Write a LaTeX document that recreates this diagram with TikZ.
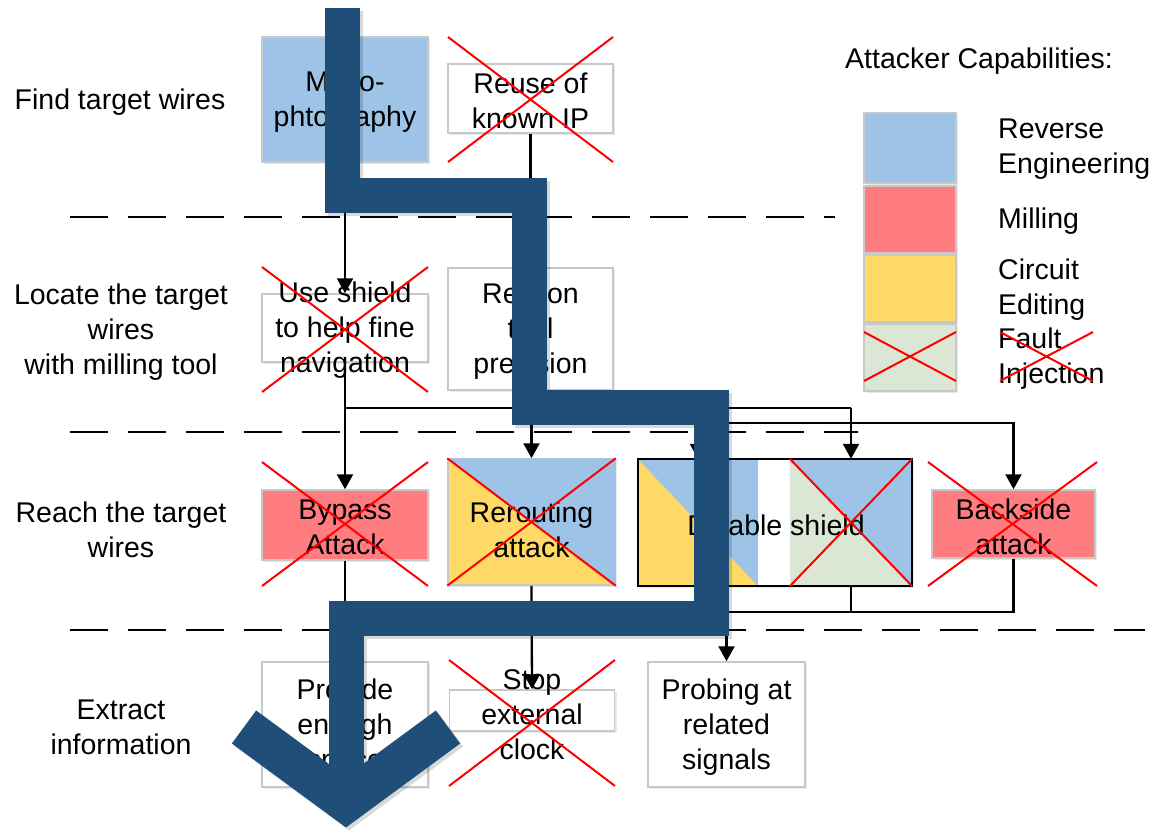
\documentclass[tikz,border=0pt]{standalone}
\usepackage{fontspec}
\setmainfont{Liberation Sans}
\usetikzlibrary{arrows.meta,shadows}

\definecolor{reBlue}{HTML}{9DC3E6}
\definecolor{millRed}{HTML}{FF7C80}
\definecolor{editYel}{HTML}{FFD966}
\definecolor{faultGrn}{HTML}{DCE6D4}
\definecolor{pathBlue}{HTML}{1F4E79}
\definecolor{edgeGray}{HTML}{C8C8C8}

\begin{document}
\begin{tikzpicture}[x=1pt,y=-1pt,
  lbl/.style={font=\fontsize{28.5}{35}\selectfont, align=center, inner sep=0pt, yshift=-2.5pt},
  stepbox/.style={draw=edgeGray, line width=1.5pt, fill=white, inner sep=0pt,
    drop shadow={shadow xshift=2pt, shadow yshift=-2pt, opacity=0.18}},
  swatch/.style={draw=edgeGray, line width=1.5pt, inner sep=0pt,
    drop shadow={shadow xshift=2pt, shadow yshift=-2pt, opacity=0.18}},
  part/.style={inner sep=0pt},
  xmark/.style={draw=red, line width=2pt},
  conn/.style={draw=black, line width=2.3pt},
  arr/.style={conn, -{Triangle[length=15pt,width=16pt]}},
  level/.style={draw=black, line width=2pt, dash pattern=on 38pt off 20pt},
  band/.style={draw=pathBlue, line width=35pt, line join=miter, line cap=butt},
]
\useasboundingbox (0,0) rectangle (1155,832);

% ---------- level separators ----------
\draw[level] (70,217) -- (835,217);
\draw[level] (70,432) -- (858,432);
\draw[level] (70,630) -- (1145,630);

% ---------- step labels ----------
\node[lbl] (l1) at (120,100) {Find target wires};
\node[lbl] (l2) at (121,330) {Locate the target\\wires\\with milling tool};
\node[lbl] (l3) at (121,527) {Reach the target\\wires};
\node[lbl] (l4) at (121,725) {Extract\\information};

% ---------- row 1 ----------
\node[stepbox, fill=reBlue, minimum width=166pt, minimum height=125pt] (micro) at (345,99.5) {};
\node[lbl] (microT) at (micro) {Micro-\\phtography};
\node[stepbox, minimum width=165pt, minimum height=69pt] (reuse) at (530.5,98.5) {};
\node[lbl] (reuseT) at (reuse) {Reuse of\\known IP};
\draw[xmark] (448,37) -- (613,162) (448,162) -- (613,37);

% ---------- row 2 ----------
\node[stepbox, minimum width=166pt, minimum height=68pt] (shield) at (345,328) {};
\node[lbl] (shieldT) at (shield) {Use shield\\to help fine\\navigation};
\draw[xmark] (262,267) -- (428,392) (262,392) -- (428,267);
\node[stepbox, minimum width=165pt, minimum height=122pt] (rely) at (530.5,329) {};
\node[lbl] (relyT) at (rely) {Rely on\\tool\\precision};

% ---------- row 3 ----------
\node[stepbox, fill=millRed, minimum width=166pt, minimum height=70pt] (bypass) at (345,525) {};
\node[lbl] (bypassT) at (bypass) {Bypass\\Attack};
\draw[xmark] (262,462) -- (428,586) (262,586) -- (428,462);

\node[stepbox, fill=editYel, minimum width=167pt, minimum height=126pt] (rerout) at (531.5,522) {};
\fill[reBlue] (rerout.north west) -- (rerout.north east) -- (rerout.south east) -- cycle;
\node[lbl] (reroutT) at (531.5,527) {Rerouting\\attack};
\draw[xmark] (rerout.north west) -- (rerout.south east) (rerout.south west) -- (rerout.north east);

\node[inner sep=0pt, minimum width=274pt, minimum height=127pt, fill=white,
  drop shadow={shadow xshift=2pt, shadow yshift=-2pt, opacity=0.18}] (disable) at (775,522.5) {};
\node[part, minimum width=120pt, minimum height=127pt, fill=editYel] (disL) at (698,522.5) {};
\fill[reBlue] (disL.north west) -- (disL.north east) -- (disL.south east) -- cycle;
\node[part, minimum width=122pt, minimum height=127pt, fill=faultGrn] (disR) at (851,522.5) {};
\fill[reBlue] (disR.north west) -- (disR.north east) -- (disR.south east) -- cycle;
\draw[black, line width=2pt] (disable.north west) rectangle (disable.south east);
\node[lbl] (disableT) at (776,523) {Disable shield};
\draw[xmark] (disR.north west) -- (disR.south east) (disR.south west) -- (disR.north east);

\node[stepbox, fill=millRed, minimum width=163pt, minimum height=68pt] (backside) at (1013.5,524) {};
\node[lbl] (backsideT) at (backside) {Backside\\attack};
\draw[xmark] (928,462) -- (1097,586) (928,586) -- (1097,462);

% ---------- row 4 ----------
\node[stepbox, minimum width=166pt, minimum height=125pt] (provide) at (345,724.5) {};
\node[lbl] (provideT) at (provide) {Provide\\enough\\space};
\node[stepbox, minimum width=165pt, minimum height=41pt] (stop) at (532,710.5) {};
\node[lbl] (stopT) at (532,712) {Stop\\external\\clock};
\draw[xmark] (449,660) -- (615,786) (449,786) -- (615,660);
\node[stepbox, minimum width=157pt, minimum height=125pt] (probe) at (726.5,724.5) {};
\node[lbl] (probeT) at (probe) {Probing at\\related\\signals};

% ---------- connectors ----------
\coordinate (busA) at (345,408);
\coordinate (busAend) at (851,408);
\coordinate (busB) at (530.5,423);
\coordinate (busC) at (726.5,612);

\draw[arr] (micro.south) -- (shield.north);
\draw[arr] (reuse.south) -- (rely.north);

\draw[arr] (shield.south) -- (busA) -- (bypass.north);
\draw[conn] (busA) -- (busAend);
\draw[arr] (rerout.north |- busA) -- (rerout.north);
\draw[arr] (disL.north |- busA) -- (disL.north);
\draw[arr] (busAend) -- (disR.north);
\draw[arr] (rely.south) -- (busB) -| (backside.north);

\draw[arr] (bypass.south) -- (provide.north);
\draw[arr] (rerout.south) -- (stop.north);
\draw[conn] (disL.south) |- (busC);
\draw[conn] (backside.south) |- (busC);
\draw[conn] (disR.south) -- (disR.south |- busC);
\draw[arr] (busC) -- (probe.north);

% ---------- legend ----------
\node[lbl, anchor=west] (legT) at (845,59) {Attacker Capabilities:};
\node[swatch, fill=reBlue, minimum width=92pt, minimum height=70pt] (sw1) at (910,148) {};
\node[swatch, fill=millRed, minimum width=92pt, minimum height=67pt] (sw2) at (910,219.5) {};
\node[swatch, fill=editYel, minimum width=92pt, minimum height=67pt] (sw3) at (910,288.5) {};
\node[swatch, fill=faultGrn, minimum width=92pt, minimum height=67pt] (sw4) at (910,357.5) {};
\draw[xmark] (864,332) -- (956,381) (864,381) -- (956,332);
\node[lbl, anchor=west, align=left] (lg1) at (998,147) {Reverse\\Engineering};
\node[lbl, anchor=west, align=left] (lg2) at (998,219) {Milling};
\node[lbl, anchor=west, align=left] (lg3) at (998,287) {Circuit\\Editing};
\node[lbl, anchor=west, align=left] (lg4) at (998,356) {Fault\\Injection};
\draw[xmark] (1000,332) -- (1093,381) (1000,381) -- (1093,332);

% ---------- attack path ----------
\begin{scope}[xshift=3pt, yshift=-3pt, opacity=0.15]
  \draw[band, draw=black] (342,8) -- (342,195) -- (529,195) -- (529,407) -- (711,407)
    -- (711,618) -- (346,618) -- (346,803);
  \draw[band, draw=black, line width=41pt] (244,727) -- (346,802) -- (448,727);
\end{scope}
\draw[band] (342,8) -- (342,195) -- (529,195) -- (529,407) -- (711,407)
  -- (711,618) -- (346,618) -- (346,802);
\draw[band, line width=41pt] (244,727) -- (346,802) -- (448,727);
\end{tikzpicture}
\end{document}
